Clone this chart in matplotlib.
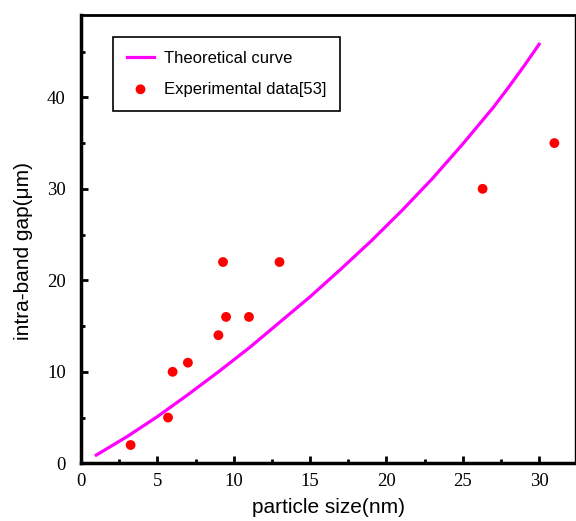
import matplotlib
matplotlib.use("Agg")
import matplotlib.pyplot as plt
from matplotlib.ticker import MultipleLocator

# Theoretical curve
curve_x = [1, 3, 5, 7, 9, 11, 13, 15, 17, 19, 21, 23, 25, 26, 27, 28, 29, 30]
curve_y = [0.9, 2.9, 5.1, 7.5, 10.0, 12.6, 15.4, 18.2, 21.2, 24.3, 27.6, 31.1, 34.9, 36.9, 38.9, 41.1, 43.4, 45.8]

# Experimental data [53]
exp_x = [3.25, 5.7, 6.0, 7.0, 9.0, 9.5, 11.0, 9.3, 13.0, 26.3, 31.0]
exp_y = [2, 5, 10, 11, 14, 16, 16, 22, 22, 30, 35]

xticks = [0, 5, 10, 15, 20, 25, 30]
yticks = [0, 10, 20, 30, 40]

fig = plt.figure(figsize=(5.76, 5.21), dpi=100)
ax = fig.add_axes([81/576, 1 - 463.3/521, (575 - 81)/576, (463.3 - 15)/521])

ax.plot(curve_x, curve_y, color='#FF00FF', lw=2.3, label='Theoretical curve', zorder=3)
ax.scatter(exp_x, exp_y, s=50, color='#FF0000', edgecolors='none', label='Experimental data[53]', zorder=4)

ax.set_xlim(0, 32.35)
ax.set_ylim(0, 49)
ax.set_xticks(xticks)
ax.set_yticks(yticks)
ax.xaxis.set_minor_locator(MultipleLocator(2.5))
ax.yaxis.set_minor_locator(MultipleLocator(5))
ax.tick_params(which='both', direction='in', top=False, right=False, width=2)
ax.tick_params(which='major', length=5, labelsize=13.5)
ax.tick_params(axis='y', which='major', pad=11)
ax.tick_params(axis='x', which='major', pad=7)
ax.tick_params(which='minor', length=3)
for lab in ax.get_xticklabels() + ax.get_yticklabels():
    lab.set_family('Liberation Serif')

ax.spines['left'].set_linewidth(2.5)
ax.spines['bottom'].set_linewidth(2.5)
ax.spines['top'].set_linewidth(2.0)
ax.spines['right'].set_linewidth(1.0)

ax.set_xlabel('particle size(nm)', fontsize=15, family='Liberation Sans')
ax.xaxis.set_label_coords(0.5, -0.078)
ax.set_ylabel('intra-band gap(μm)', fontsize=15, family='Liberation Sans')
ax.yaxis.set_label_coords(-0.097, 0.474)

leg = ax.legend(loc='upper left', bbox_to_anchor=(113/576, 1 - 37/521), bbox_transform=fig.transFigure,
                fancybox=False, framealpha=1, edgecolor='black', borderaxespad=0,
                prop={'family': 'Liberation Sans', 'size': 12},
                handlelength=1.6, handletextpad=0.6, borderpad=0.85, labelspacing=0.93)
leg.get_frame().set_linewidth(1.2)

fig.savefig('out.png', dpi=100)
